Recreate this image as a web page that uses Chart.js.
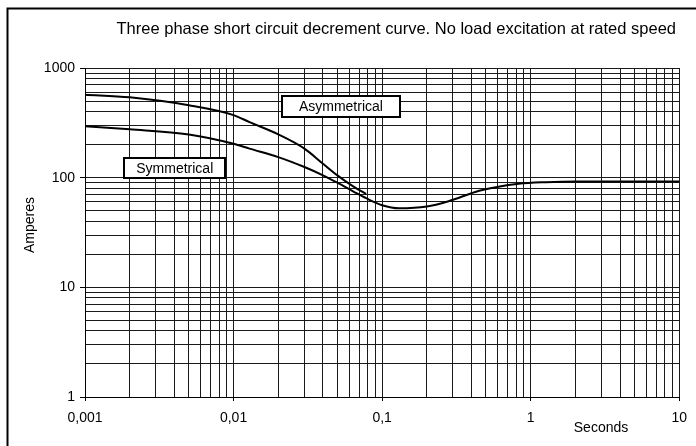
<!DOCTYPE html>
<html>
<head>
<meta charset="utf-8">
<script src="https://cdn.jsdelivr.net/npm/chart.js@4/dist/chart.umd.min.js"></script>
<style>
  html, body { margin: 0; padding: 0; background: #fff; }
  #wrap { width: 696px; height: 446px; }
</style>
</head>
<body>
<div id="wrap"><canvas id="decrementChart" width="696" height="446"></canvas></div>
<script>
// curve values (seconds, amperes)
const symTime = [0.001, 0.002, 0.005, 0.01, 0.0128, 0.02, 0.03, 0.04, 0.05, 0.065, 0.078, 0.1, 0.13, 0.2, 0.28, 0.45, 0.62, 0.83, 1.26, 2, 10];
const symAmps = [294, 276, 248, 204, 184, 154, 125, 105, 90, 74, 65, 56, 52.5, 54.5, 61, 76, 83, 88, 91, 92.5, 92.5];
const asymTime = [0.001, 0.002, 0.005, 0.01, 0.0128, 0.02, 0.03, 0.04, 0.05, 0.065, 0.078];
const asymAmps = [571, 540, 457, 372, 321, 248, 184, 134, 105, 82, 71];

// axis ticks
const xMajor = [0.001, 0.01, 0.1, 1, 10];
const xMajorLabels = ['0,001', '0,01', '0,1', '1', '10'];
const yMajor = [1, 10, 100, 1000];
const yMajorLabels = ['1', '10', '100', '1000'];

// texts
const chartTitle = 'Three phase short circuit decrement curve. No load excitation at rated speed';
const xTitle = 'Seconds';
const yTitle = 'Amperes';
// label boxes placed in data space: [seconds, amperes]
const asymLabel = { text: 'Asymmetrical', at: [0.0528, 450], w: 120, h: 23 };
const symLabel = { text: 'Symmetrical', at: [0.00402, 122], w: 103, h: 22 };

const FAMILY = '"Liberation Sans", Arial, sans-serif';
const FONT = '14px ' + FAMILY;

// 1..9 per decade
function decadeTicks(majors) {
    const out = [];
    for (let i = 0; i < majors.length; i++) {
        const m = majors[i];
        out.push({ value: m, major: true });
        if (i < majors.length - 1) {
            for (let k = 2; k <= 9; k++) out.push({ value: m * k, major: false });
        }
    }
    return out;
}

function labelFor(value, majors, labels) {
    for (let i = 0; i < majors.length; i++) {
        if (Math.abs(value - majors[i]) / majors[i] < 1e-6) return labels[i];
    }
    return '';
}

const toPoints = (xs, ys) => xs.map((x, i) => ({ x: x, y: ys[i] }));

const decorations = {
    id: 'decorations',
    beforeDraw(chart) {
        const c = chart.ctx;
        c.save();
        c.fillStyle = '#fff';
        c.fillRect(0, 0, chart.width, chart.height);
        // frame (left and top only)
        c.strokeStyle = '#000';
        c.lineWidth = 2;
        c.beginPath();
        c.moveTo(7.5, chart.height);
        c.lineTo(7.5, 8.5);
        c.lineTo(chart.width, 8.5);
        c.stroke();
        c.restore();
    },
    afterDraw(chart) {
        const c = chart.ctx;
        const xs = chart.scales.x, ys = chart.scales.y;
        c.save();
        c.fillStyle = '#000';
        c.font = '16.5px ' + FAMILY;
        c.textAlign = 'right';
        c.textBaseline = 'alphabetic';
        c.fillText(chartTitle, 676, 34);

        c.font = FONT;
        c.textBaseline = 'middle';
        c.textAlign = 'center';
        c.fillText(xTitle, 601, 428);
        c.save();
        c.translate(30, 225);
        c.rotate(-Math.PI / 2);
        c.fillText(yTitle, 0, 0);
        c.restore();

        [asymLabel, symLabel].forEach(lb => {
            const cx = xs.getPixelForValue(lb.at[0]);
            const cy = ys.getPixelForValue(lb.at[1]);
            const x0 = Math.round(cx - lb.w / 2), y0 = Math.round(cy - lb.h / 2);
            c.fillStyle = '#fff';
            c.fillRect(x0, y0, lb.w, lb.h);
            c.strokeStyle = '#000';
            c.lineWidth = 2;
            c.strokeRect(x0 + 1, y0 + 1, lb.w - 2, lb.h - 2);
            c.fillStyle = '#000';
            c.fillText(lb.text, cx, cy + 1);
        });
        c.restore();
    }
};

const ctx = document.getElementById('decrementChart').getContext('2d');

const decrementChart = new Chart(ctx, {
    type: 'line',
    data: {
        datasets: [{
            label: 'Asymmetrical',
            data: toPoints(asymTime, asymAmps),
            borderColor: '#000',
            borderWidth: 2,
            pointRadius: 0,
            cubicInterpolationMode: 'monotone',
            fill: false
        }, {
            label: 'Symmetrical',
            data: toPoints(symTime, symAmps),
            borderColor: '#000',
            borderWidth: 2,
            pointRadius: 0,
            cubicInterpolationMode: 'monotone',
            fill: false
        }]
    },
    options: {
        responsive: false,
        animation: false,
        events: [],
        layout: { padding: { left: 0, top: 68, right: 15, bottom: 0 } },
        plugins: {
            legend: { display: false },
            title: { display: false },
            tooltip: { enabled: false }
        },
        scales: {
            x: {
                type: 'logarithmic',
                min: 0.001,
                max: 10,
                afterBuildTicks: scale => { scale.ticks = decadeTicks(xMajor); },
                afterFit: scale => { scale.height = 49; },
                grid: {
                    color: '#1a1a1a',
                    lineWidth: 1,
                    drawTicks: true,
                    tickLength: 4,
                    tickColor: c => (c.tick && c.tick.major) ? '#000' : 'rgba(0,0,0,0)'
                },
                border: { color: '#000', width: 1 },
                ticks: {
                    autoSkip: false,
                    maxRotation: 0,
                    minRotation: 0,
                    padding: 9,
                    color: '#000',
                    font: { family: FAMILY, size: 14 },
                    callback: v => labelFor(v, xMajor, xMajorLabels)
                }
            },
            y: {
                type: 'logarithmic',
                min: 1,
                max: 1000,
                afterBuildTicks: scale => { scale.ticks = decadeTicks(yMajor); },
                afterFit: scale => { scale.width = 85; },
                grid: {
                    color: '#1a1a1a',
                    lineWidth: 1,
                    drawTicks: true,
                    tickLength: 5,
                    tickColor: c => (c.tick && c.tick.major) ? '#000' : 'rgba(0,0,0,0)'
                },
                border: { color: '#000', width: 1 },
                ticks: {
                    autoSkip: false,
                    padding: 5,
                    color: '#000',
                    font: { family: FAMILY, size: 14 },
                    callback: v => labelFor(v, yMajor, yMajorLabels)
                }
            }
        }
    },
    plugins: [decorations]
});
</script>
</body>
</html>
